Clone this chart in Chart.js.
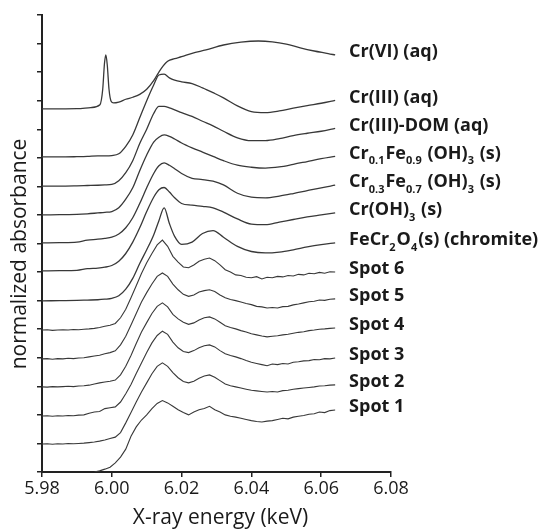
<!DOCTYPE html>
<html>
<head>
<meta charset="utf-8">
<title>Cr K-edge XANES</title>
<script src="https://cdn.jsdelivr.net/npm/chart.js@4.4.0/dist/chart.umd.min.js"></script>
<style>
  body { margin: 0; background: #fff; }
  canvas { display: block; }
</style>
</head>
<body>
<canvas id="xanes" width="541" height="532"></canvas>
<script>
// tick values
const xTicks = [5.98, 6.00, 6.02, 6.04, 6.06, 6.08];
const yTicks = [0, 1, 2, 3, 4, 5, 6, 7, 8, 9, 10, 11, 12, 13, 14, 15, 16];

// spectrum names, top to bottom
const seriesNames = [
  'Cr(VI) (aq)', 'Cr(III) (aq)', 'Cr(III)-DOM (aq)',
  'Cr_{0.1}Fe_{0.9} (OH)_{3} (s)', 'Cr_{0.3}Fe_{0.7} (OH)_{3} (s)',
  'Cr(OH)_{3} (s)', 'FeCr_{2}O_{4}(s) (chromite)',
  'Spot 6', 'Spot 5', 'Spot 4', 'Spot 3', 'Spot 2', 'Spot 1'
];

// Cr(VI) has its own energy points (sharp pre-edge peak)
const crviEnergy = [5.980, 5.990, 5.994, 5.9966, 5.9974, 5.9979, 5.9983, 5.9987, 5.9992, 5.9998, 6.0005,
  6.002, 6.004, 6.006, 6.008, 6.010, 6.012, 6.014, 6.016, 6.018, 6.020, 6.023, 6.027, 6.032, 6.037,
  6.042, 6.046, 6.050, 6.054, 6.058, 6.062, 6.064];
const crVI = [12.71, 12.72, 12.76, 12.86, 13.40, 14.30, 14.60, 14.25, 13.40, 12.98, 12.92,
  12.95, 13.05, 13.12, 13.22, 13.40, 13.70, 14.10, 14.38, 14.47, 14.54, 14.66, 14.78, 14.95, 15.05,
  15.09, 15.06, 14.98, 14.85, 14.74, 14.65, 14.60];

// reference standards (offset stacked)
const refEnergy = [5.980, 5.985, 5.990, 5.993, 5.996, 5.998, 6.000, 6.002, 6.004, 6.006, 6.008, 6.010,
  6.012, 6.0135, 6.015, 6.0165, 6.018, 6.020, 6.023, 6.026, 6.029, 6.032, 6.036, 6.040, 6.044, 6.048,
  6.052, 6.056, 6.060, 6.064];
const crIIIaq = [11.03, 11.03, 11.04, 11.05, 11.07, 11.07, 11.08, 11.14, 11.40, 11.80, 12.40, 13.00,
  13.55, 13.90, 13.93, 13.80, 13.72, 13.66, 13.60, 13.45, 13.28, 13.10, 12.82, 12.62, 12.58, 12.64,
  12.74, 12.83, 12.91, 13.01];
const crIIIdom = [10.01, 10.01, 10.02, 10.03, 10.04, 10.05, 10.07, 10.20, 10.48, 10.90, 11.50, 12.00,
  12.55, 12.80, 12.80, 12.75, 12.68, 12.58, 12.45, 12.28, 12.12, 11.93, 11.70, 11.60, 11.60, 11.67,
  11.78, 11.86, 11.93, 12.03];
const cr01fe09 = [9.00, 9.01, 9.02, 9.04, 9.07, 9.09, 9.12, 9.25, 9.55, 9.95, 10.55, 11.10,
  11.55, 11.72, 11.80, 11.75, 11.66, 11.52, 11.35, 11.20, 11.05, 10.90, 10.74, 10.67, 10.64, 10.68,
  10.77, 10.87, 10.97, 11.05];
const cr03fe07 = [8.02, 8.03, 8.05, 8.12, 8.15, 8.18, 8.22, 8.33, 8.55, 8.90, 9.40, 9.95,
  10.45, 10.72, 10.82, 10.74, 10.62, 10.45, 10.28, 10.24, 10.18, 10.05, 9.76, 9.62, 9.60, 9.66,
  9.75, 9.85, 9.95, 10.04];
const crOH3 = [7.04, 7.05, 7.06, 7.12, 7.14, 7.17, 7.23, 7.38, 7.65, 8.05, 8.55, 9.12,
  9.62, 9.88, 9.96, 9.80, 9.60, 9.40, 9.34, 9.30, 9.25, 9.10, 8.86, 8.68, 8.66, 8.75,
  8.84, 8.93, 9.00, 9.07];
const chromite = [5.99, 6.00, 6.01, 6.02, 6.03, 6.05, 6.08, 6.17, 6.40, 6.78, 7.30, 7.78,
  8.30, 8.80, 9.25, 8.70, 8.25, 7.97, 8.05, 8.35, 8.45, 8.22, 7.90, 7.72, 7.67, 7.70,
  7.78, 7.88, 7.96, 8.02];

// micro-XANES spots (noisy, finer energy step)
const spotEnergy = [5.9800, 5.9815, 5.9830, 5.9845, 5.9860, 5.9875, 5.9890, 5.9905, 5.9920, 5.9935,
  5.9950, 5.9965, 5.9980, 5.9995, 6.0010, 6.0025, 6.0040, 6.0055, 6.0070, 6.0085,
  6.0100, 6.0115, 6.0130, 6.0145, 6.0160, 6.0175, 6.0190, 6.0205, 6.0220, 6.0235,
  6.0250, 6.0265, 6.0280, 6.0295, 6.0310, 6.0325, 6.0340, 6.0355, 6.0370, 6.0385,
  6.0400, 6.0415, 6.0430, 6.0445, 6.0460, 6.0475, 6.0490, 6.0505, 6.0520, 6.0535,
  6.0550, 6.0565, 6.0580, 6.0595, 6.0610, 6.0625, 6.0640];
const spot6 = [4.97, 4.98, 4.96, 4.97, 4.98, 4.97, 4.99, 4.98, 5.00, 5.01,
  5.03, 5.06, 5.10, 5.14, 5.20, 5.40, 5.70, 6.10, 6.52, 6.95,
  7.33, 7.65, 7.95, 8.12, 7.90, 7.55, 7.35, 7.18, 7.15, 7.25,
  7.38, 7.45, 7.49, 7.40, 7.25, 7.08, 7.00, 6.90, 6.88, 6.82,
  6.80, 6.84, 6.76, 6.82, 6.80, 6.85, 6.83, 6.88, 6.86, 6.92,
  6.90, 6.96, 6.94, 6.99, 6.96, 7.01, 7.00];
const spot5 = [3.96, 3.97, 3.95, 3.97, 3.96, 3.98, 3.97, 3.99, 4.00, 4.03,
  4.06, 4.09, 4.14, 4.18, 4.24, 4.45, 4.75, 5.15, 5.55, 5.95,
  6.28, 6.58, 6.85, 6.97, 6.85, 6.58, 6.38, 6.22, 6.15, 6.20,
  6.30, 6.35, 6.38, 6.32, 6.20, 6.10, 6.04, 6.00, 5.95, 5.90,
  5.86, 5.80, 5.78, 5.74, 5.76, 5.74, 5.79, 5.80, 5.85, 5.88,
  5.92, 5.96, 5.98, 6.02, 6.01, 6.05, 6.06];
const spot4 = [2.98, 2.97, 2.99, 2.98, 2.99, 3.00, 2.99, 3.01, 3.02, 3.04,
  3.08, 3.12, 3.15, 3.18, 3.22, 3.40, 3.70, 4.08, 4.50, 4.90,
  5.23, 5.55, 5.80, 5.92, 5.78, 5.52, 5.36, 5.24, 5.17, 5.22,
  5.32, 5.40, 5.43, 5.36, 5.24, 5.12, 5.06, 5.01, 4.95, 4.90,
  4.84, 4.80, 4.76, 4.73, 4.75, 4.77, 4.80, 4.82, 4.86, 4.89,
  4.91, 4.95, 4.97, 5.00, 5.01, 5.03, 5.04];
const spot3 = [1.96, 1.97, 1.95, 1.97, 1.96, 1.98, 1.97, 1.99, 2.00, 2.06,
  2.10, 2.12, 2.22, 2.25, 2.28, 2.45, 2.74, 3.06, 3.45, 3.82,
  4.18, 4.52, 4.78, 4.93, 4.82, 4.55, 4.35, 4.22, 4.18, 4.25,
  4.35, 4.42, 4.45, 4.38, 4.25, 4.14, 4.08, 4.03, 3.97, 3.90,
  3.84, 3.80, 3.76, 3.72, 3.78, 3.76, 3.80, 3.78, 3.84, 3.86,
  3.89, 3.90, 3.94, 3.93, 3.97, 3.96, 3.99];
const spot2 = [0.98, 0.99, 0.97, 0.99, 0.98, 1.00, 0.99, 1.00, 1.01, 1.03,
  1.05, 1.08, 1.12, 1.17, 1.22, 1.38, 1.72, 2.08, 2.45, 2.80,
  3.12, 3.44, 3.70, 3.82, 3.70, 3.48, 3.30, 3.17, 3.12, 3.18,
  3.28, 3.36, 3.40, 3.32, 3.20, 3.08, 3.02, 2.98, 2.94, 2.90,
  2.86, 2.84, 2.82, 2.80, 2.82, 2.80, 2.85, 2.86, 2.90, 2.92,
  2.94, 2.96, 2.98, 3.01, 3.02, 3.04, 3.05];
const spot1 = [null, null, null, null, null, null, null, null, null, null,
  0.00, 0.04, 0.10, 0.17, 0.32, 0.52, 0.80, 1.25, 1.58, 1.82,
  2.00, 2.22, 2.40, 2.50, 2.42, 2.30, 2.18, 2.08, 2.00, 2.10,
  2.18, 2.22, 2.30, 2.18, 2.10, 2.00, 1.95, 1.92, 1.88, 1.84,
  1.80, 1.77, 1.75, 1.78, 1.80, 1.84, 1.88, 1.86, 1.92, 1.95,
  1.98, 2.02, 2.04, 2.10, 2.08, 2.15, 2.17];

const labelAt = 6.068; // energy where the right-hand names start
const LINE = '#383838';
const TEXT = '#1a1a1a';

function toPoints(xs, ys) {
  const pts = [];
  xs.forEach((x, i) => { if (ys[i] !== null) pts.push({ x: x, y: ys[i] }); });
  return pts;
}

const series = [
  [crviEnergy, crVI], [refEnergy, crIIIaq], [refEnergy, crIIIdom], [refEnergy, cr01fe09],
  [refEnergy, cr03fe07], [refEnergy, crOH3], [refEnergy, chromite],
  [spotEnergy, spot6], [spotEnergy, spot5], [spotEnergy, spot4],
  [spotEnergy, spot3], [spotEnergy, spot2], [spotEnergy, spot1]
];

const datasets = series.map((s, i) => {
  const noisy = i >= 7;
  return {
    label: seriesNames[i],
    data: toPoints(s[0], s[1]),
    borderColor: LINE,
    borderWidth: noisy ? 1.1 : 1.3,
    pointRadius: 0,
    fill: false,
    tension: noisy ? 0 : 0.4,
    cubicInterpolationMode: noisy ? 'default' : 'monotone'
  };
});

// draws "Cr_{0.1}Fe_{0.9}" style names with subscripts
function drawRich(ctx, text, x, y, size) {
  const parts = text.split(/(_\{[^}]*\})/);
  parts.forEach(p => {
    if (!p) return;
    const sub = p.startsWith('_{');
    const s = sub ? p.slice(2, -1) : p;
    ctx.font = 'bold ' + (sub ? Math.round(size * 0.6) : size) + 'px "Open Sans"';
    ctx.fillText(s, x, y + (sub ? size * 0.42 : 0));
    x += ctx.measureText(s).width + (sub ? 1 : 0);
  });
}

const annotate = {
  id: 'annotate',
  afterDraw(chart) {
    const ctx = chart.ctx;
    const xs = chart.scales.x;
    ctx.save();
    ctx.fillStyle = TEXT;
    ctx.textBaseline = 'middle';
    ctx.textAlign = 'left';
    chart.data.datasets.forEach((ds, i) => {
      const pts = chart.getDatasetMeta(i).data;
      const last = pts[pts.length - 1];
      drawRich(ctx, seriesNames[i], xs.getPixelForValue(labelAt), last.y - 3, 18);
    });
    // axis titles
    ctx.font = '21px "Open Sans"';
    ctx.textAlign = 'center';
    ctx.fillText('X-ray energy (keV)', (xs.left + xs.right) / 2 + 4, 518);
    ctx.translate(20, 254);
    ctx.rotate(-Math.PI / 2);
    ctx.fillText('normalized absorbance', 0, 0);
    ctx.restore();
  }
};

Chart.defaults.font.family = '"Open Sans", sans-serif';

new Chart(document.getElementById('xanes'), {
  type: 'line',
  data: { datasets: datasets },
  options: {
    responsive: false,
    animation: false,
    layout: { padding: { left: 0, top: 15, right: 150, bottom: 0 } },
    plugins: { legend: { display: false }, tooltip: { enabled: false } },
    scales: {
      x: {
        type: 'linear',
        min: 5.98,
        max: 6.08,
        afterBuildTicks: s => { s.ticks = xTicks.map(v => ({ value: v })); },
        afterFit: s => { s.height = 60; },
        ticks: {
          callback: v => v.toFixed(2),
          font: { size: 18 },
          color: TEXT,
          padding: 1,
          maxRotation: 0,
          autoSkip: false
        },
        grid: { drawOnChartArea: false, drawTicks: true, tickLength: 5, color: '#222', lineWidth: 1.5 },
        border: { display: true, color: '#222', width: 2 }
      },
      y: {
        type: 'linear',
        min: 0,
        max: 16,
        afterBuildTicks: s => { s.ticks = yTicks.map(v => ({ value: v })); },
        afterFit: s => { s.width = 42; },
        ticks: { display: false },
        grid: { drawOnChartArea: false, drawTicks: true, tickLength: 5, color: '#222', lineWidth: 1.5 },
        border: { display: true, color: '#222', width: 2 }
      }
    }
  },
  plugins: [annotate]
});
</script>
</body>
</html>
